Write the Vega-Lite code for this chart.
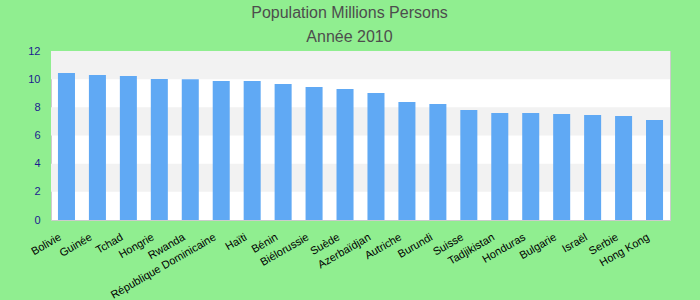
{
  "$schema": "https://vega.github.io/schema/vega-lite/v6.json",
  "autosize": "none",
  "width": 619,
  "height": 169,
  "padding": {"left": 51, "top": 51, "right": 30, "bottom": 80},
  "background": "#90ee90",
  "title": {
    "text": "Population Millions Persons",
    "subtitle": "Année 2010",
    "anchor": "middle",
    "frame": "group",
    "dx": -11,
    "font": "Liberation Sans",
    "fontSize": 16,
    "fontWeight": "normal",
    "color": "#4d4d4d",
    "subtitleFont": "Liberation Sans",
    "subtitleFontSize": 16,
    "subtitleColor": "#4d4d4d",
    "subtitlePadding": 8,
    "offset": 0
  },
  "config": {
    "view": {"fill": "white", "stroke": "#cccccc", "strokeWidth": 1},
    "axisY": {
      "title": null,
      "values": [0, 2, 4, 6, 8, 10, 12],
      "labelOverlap": false,
      "grid": false,
      "ticks": false,
      "domain": false,
      "labelFont": "Liberation Sans",
      "labelFontSize": 11,
      "labelColor": "#1b1b8f",
      "labelPadding": 11
    },
    "axisX": {
      "title": null,
      "labelAngle": -30,
      "labelFont": "Liberation Sans",
      "labelFontSize": 11,
      "labelColor": "#000000",
      "labelOverlap": false,
      "ticks": false,
      "domain": false,
      "labelPadding": 11,
      "labelOffset": -9
    }
  },
  "layer": [
    {
      "data": {"values": [{"lo": 2, "hi": 4}, {"lo": 6, "hi": 8}, {"lo": 10, "hi": 12}]},
      "mark": {"type": "rect", "color": "#f2f2f2"},
      "encoding": {
        "y": {"field": "lo", "type": "quantitative", "scale": {"domain": [0, 12], "nice": false}, "axis": {"values": [0, 2, 4, 6, 8, 10, 12], "labelOverlap": false, "title": null}},
        "y2": {"field": "hi"}
      }
    },
    {
      "data": {"values": [
        {"pays": "Bolivie", "population": 10.44},
        {"pays": "Guinée", "population": 10.30},
        {"pays": "Tchad", "population": 10.23},
        {"pays": "Hongrie", "population": 10.01},
        {"pays": "Rwanda", "population": 10.0},
        {"pays": "République Dominicaine", "population": 9.87},
        {"pays": "Haïti", "population": 9.87},
        {"pays": "Bénin", "population": 9.66},
        {"pays": "Biélorussie", "population": 9.45},
        {"pays": "Suède", "population": 9.30},
        {"pays": "Azerbaïdjan", "population": 9.02},
        {"pays": "Autriche", "population": 8.38},
        {"pays": "Burundi", "population": 8.24},
        {"pays": "Suisse", "population": 7.81},
        {"pays": "Tadjikistan", "population": 7.60},
        {"pays": "Honduras", "population": 7.60},
        {"pays": "Bulgarie", "population": 7.53},
        {"pays": "Israël", "population": 7.46},
        {"pays": "Serbie", "population": 7.39},
        {"pays": "Hong Kong", "population": 7.10}
      ]},
      "mark": {"type": "bar", "color": "#60a9f4"},
      "encoding": {
        "x": {
          "field": "pays",
          "type": "nominal",
          "sort": null,
          "scale": {"paddingInner": 0.45, "paddingOuter": 0.225}
        },
        "y": {
          "field": "population",
          "type": "quantitative",
          "scale": {"domain": [0, 12], "nice": false},
          "axis": {"values": [0, 2, 4, 6, 8, 10, 12], "labelOverlap": false, "title": null}
        }
      }
    }
  ]
}
